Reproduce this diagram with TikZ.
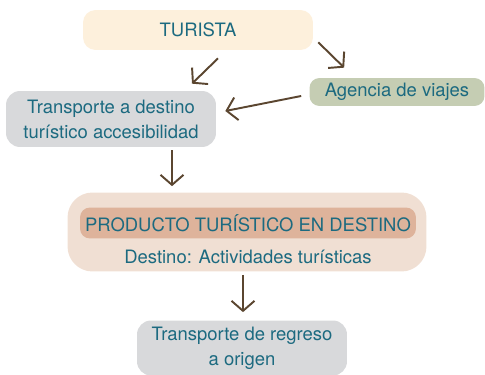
\documentclass[tikz,border=0pt]{standalone}
\usepackage{fontspec}
\setmainfont{TeX Gyre Heros}
\usetikzlibrary{arrows.meta,calc}
\definecolor{textteal}{HTML}{1C6A80}
\definecolor{arrowbrown}{HTML}{5B4630}
\definecolor{creamfill}{HTML}{FDF0DC}
\definecolor{sagefill}{HTML}{C5CDB3}
\definecolor{greyfill}{HTML}{D8D9DB}
\definecolor{peachfill}{HTML}{F0DFD3}
\definecolor{clayfill}{HTML}{DEB39B}
\begin{document}
\begin{tikzpicture}[
                x=0.02cm, y=-0.02cm,
                every node/.style={font=\fontsize{10.5}{14.2}\selectfont, text=textteal, align=center, inner sep=0pt},
                box/.style={rectangle, rounded corners=0.28cm, minimum height=1.12cm, minimum width=4.2cm},
                arr/.style={-{Straight Barb[length=2mm,width=4.6mm]}, draw=arrowbrown, line width=1.1pt},
            ]
            \useasboundingbox (0,0) rectangle (485,375);

            % Define nodes
            \node[box,fill=creamfill,minimum width=4.6cm,minimum height=0.8cm,rounded corners=0.25cm] (tur) at (198,30) {TURISTA};
            \node[box,fill=sagefill,minimum width=3.5cm,minimum height=0.56cm,rounded corners=0.2cm] (ag) at (397,92) {Agencia de viajes};
            \node[box,fill=greyfill] (trans) at (111,119) {Transporte a destino\\ turístico accesibilidad};
            \node[box,fill=peachfill,minimum width=7.18cm,minimum height=1.58cm,rounded corners=0.5cm] (prod) at (247,232) {};
            \node[box,fill=clayfill,minimum width=6.72cm,minimum height=0.62cm,rounded corners=0.2cm] (prodtitle) at (248,223) {PRODUCTO TURÍSTICO EN DESTINO};
            \node (dest) at (248,257) {Destino: Actividades turísticas};
            \node[box,fill=greyfill,minimum height=1.1cm] (reg) at (242,348) {Transporte de regreso\\ a origen};

            % Draw connections
            \draw[arr] ($(tur.south)+(20,8)$) -- ($(trans.north)+(81,-7)$);
            \draw[arr] ($(tur.south east)+(5,-8)$) -- ($(ag.north west)+(35,-10)$);
            \draw[arr] ($(ag.west)+(-8,4)$) -- ($(trans.east)+(9,-8)$);
            \draw[arr] ($(trans.south)+(61,3)$) -- ($(prod.north)+(-75,-6)$);
            \draw[arr] ($(prod.south)+(-4,3)$) -- ($(reg.north)+(1,-8)$);

\end{tikzpicture}
\end{document}
